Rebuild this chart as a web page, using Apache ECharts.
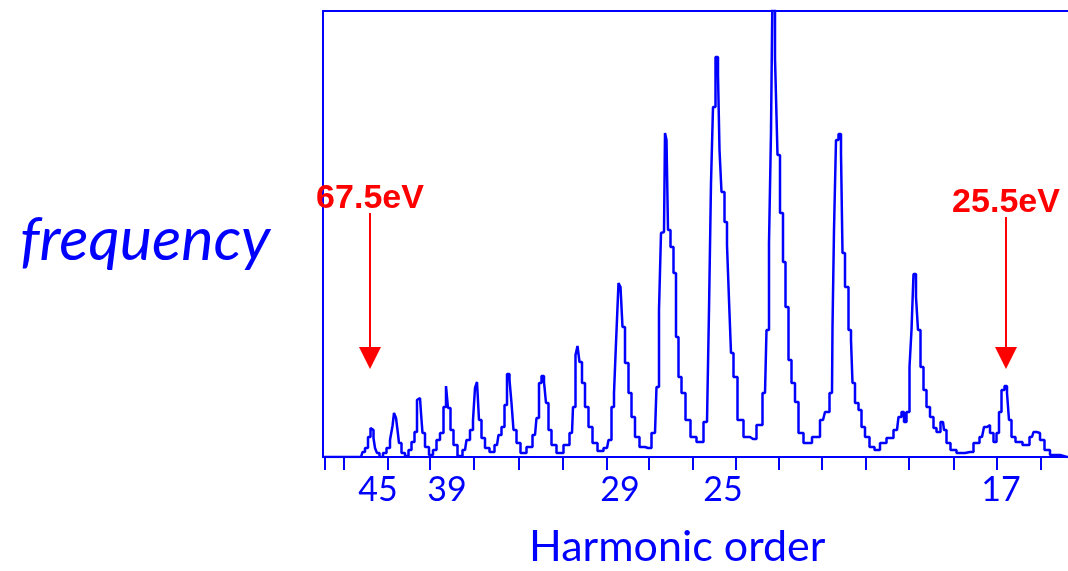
<!DOCTYPE html>
<html>
<head>
<meta charset="utf-8">
<script src="https://cdn.jsdelivr.net/npm/echarts@6/dist/echarts.min.js"></script>
<style>
  html, body { margin: 0; padding: 0; background: #ffffff; }
  #chart { width: 1068px; height: 571px; }
</style>
</head>
<body>
<div id="chart"></div>
<script>
// Harmonic spectrum: [detector channel, intensity]
const spectrum = [
  [0, 0], [38, 0], [39, 2], [40, 5], [44, 9], [46, 20], [49, 29], [50, 27], [51, 19], [53, 9], [55, 4], [58, 0],
  [62, 4], [65, 9], [69, 17], [70, 31], [72, 44], [74, 39], [75, 27], [77, 14], [80, 4], [84, 1],
  [87, 7], [90, 15], [93, 25], [95, 57], [97, 59], [99, 44], [100, 24], [104, 10], [108, 2],
  [112, 7], [115, 17], [119, 24], [122, 50], [124, 71], [126, 49], [129, 27], [132, 12], [137, 1],
  [142, 7], [145, 17], [149, 27], [151, 37], [153, 69], [155, 75], [157, 37], [160, 19], [164, 9], [169, 5],
  [174, 12], [177, 22], [180, 30], [183, 52], [185, 83], [188, 77], [189, 54], [192, 27], [195, 14], [200, 4],
  [207, 10], [212, 22], [215, 39], [217, 74], [220, 81], [222, 75], [224, 54], [227, 27], [230, 12], [237, 4],
  [244, 12], [249, 24], [251, 50], [254, 102], [255, 111], [258, 95], [260, 74], [264, 50], [267, 30], [272, 14], [277, 6], [284, 9],
  [287, 17], [290, 50], [292, 64], [294, 114], [295, 150], [296, 174], [299, 170], [300, 130], [304, 94], [307, 64], [310, 40], [314, 20], [319, 10], [325, 9], [332, 24],
  [335, 70], [337, 147], [339, 224], [341, 225], [343, 324], [344, 317], [346, 227], [349, 210], [352, 184], [354, 120], [357, 80], [360, 64], [365, 37], [370, 20], [377, 15], [384, 35],
  [385, 64], [387, 147], [389, 274], [391, 350], [394, 400], [396, 382], [397, 307], [400, 265], [403, 235], [405, 212], [407, 157], [409, 104], [412, 80], [417, 37], [424, 20], [430, 18], [437, 32],
  [442, 64], [445, 127], [447, 214], [449, 325], [450, 470], [454, 399], [455, 302], [459, 244], [461, 195], [464, 150], [467, 97], [470, 74], [474, 55], [477, 24], [484, 14], [494, 20], [500, 37], [504, 45], [509, 64],
  [510, 130], [512, 227], [514, 317], [517, 323], [519, 304], [520, 204], [524, 170], [527, 127], [529, 117], [530, 74], [534, 54], [537, 47], [540, 30], [544, 20], [549, 10], [554, 7], [560, 14], [567, 19], [574, 27], [577, 40], [580, 45], [582, 35], [585, 45],
  [588, 90], [589, 127], [592, 183], [594, 160], [596, 127], [599, 90], [602, 67], [605, 50], [609, 40], [612, 29], [615, 25], [620, 35], [622, 27], [625, 14], [630, 7], [637, 4], [647, 5], [654, 14], [659, 20], [663, 30], [665, 32], [669, 24], [672, 15],
  [675, 24], [677, 45], [680, 67], [683, 71], [685, 64], [687, 37], [690, 20], [695, 15], [704, 12], [709, 20], [712, 25], [715, 24], [719, 17], [724, 7], [730, 2], [744, 0], [762, 0]
];

// Axis tick marks (channels) and labelled harmonic orders
const tickChannels = [2, 21, 65, 107, 151, 196, 240, 284, 326, 370, 413, 456, 499, 543, 586, 631, 674, 718];
const labelChannels = [55, 124, 297, 400, 678];
const harmonicOrders = ['45', '39', '29', '25', '17'];

// Photon-energy markers
const markerLabels = ['67.5eV', '25.5eV'];
const markerChannels = [47, 683];
const markerTop = [244, 240];
const markerTip = [99, 99];
const markerLabelGap = [-3, -3];

const BLUE = '#0000ff';
const RED = '#ff0000';

const orderByChannel = {};
labelChannels.forEach((c, i) => { orderByChannel[c] = harmonicOrders[i]; });

const markLineData = markerLabels.map((name, i) => [
  { name: name, coord: [markerChannels[i], markerTop[i]], label: { distance: markerLabelGap[i] } },
  { coord: [markerChannels[i], markerTip[i]] }
]);

const chart = echarts.init(document.getElementById('chart'), null, { renderer: 'canvas' });

chart.setOption({
  animation: false,
  backgroundColor: '#ffffff',
  title: [
    {
      text: 'frequency',
      left: 20, top: 210, padding: 0,
      textStyle: { fontFamily: 'Lato', fontStyle: 'italic', fontWeight: 'normal', fontSize: 61, color: BLUE }
    },
    {
      text: 'Harmonic order',
      left: 529, top: 526, padding: 0,
      textStyle: { fontFamily: 'Lato', fontWeight: 'normal', fontSize: 43, color: BLUE }
    }
  ],
  grid: {
    left: 323, top: 11, width: 762, height: 446,
    outerBoundsMode: 'none',
    containLabel: false,
    show: true, borderColor: BLUE, borderWidth: 2, backgroundColor: 'transparent'
  },
  xAxis: {
    type: 'value',
    min: 0, max: 762,
    axisLine: { show: true, lineStyle: { color: BLUE, width: 2 } },
    axisTick: { show: true, inside: false, length: 13, customValues: tickChannels, lineStyle: { color: BLUE, width: 2 } },
    axisLabel: {
      show: true,
      customValues: labelChannels,
      formatter: v => orderByChannel[v] || '',
      margin: 16,
      fontFamily: 'Lato', fontSize: 34, color: BLUE
    },
    splitLine: { show: false }
  },
  yAxis: {
    type: 'value',
    min: 0, max: 446,
    show: false,
    splitLine: { show: false }
  },
  series: [{
    type: 'line',
    data: spectrum,
    step: 'middle',
    showSymbol: false,
    clip: true,
    lineStyle: { color: BLUE, width: 2.5 },
    itemStyle: { color: BLUE },
    silent: true,
    markLine: {
      silent: true,
      animation: false,
      symbol: ['none', 'triangle'],
      symbolSize: 22,
      lineStyle: { color: RED, width: 2, type: 'solid' },
      itemStyle: { color: RED },
      label: {
        show: true,
        position: 'start',
        formatter: '{b}',
        color: RED,
        fontFamily: 'Liberation Sans',
        fontWeight: 'bold',
        fontSize: 34
      },
      emphasis: { disabled: true },
      data: markLineData
    }
  }]
});
</script>
</body>
</html>
